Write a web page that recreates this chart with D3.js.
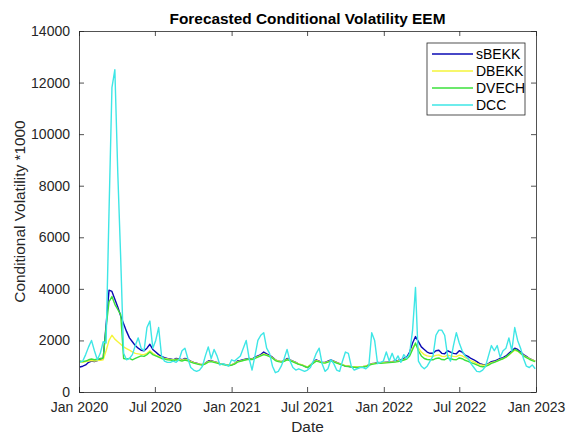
<!DOCTYPE html>
<html>
<head>
<meta charset="utf-8">
<script src="https://cdn.jsdelivr.net/npm/d3@7/dist/d3.min.js"></script>
<style>
  html, body { margin: 0; padding: 0; background: #fff; }
  svg { display: block; font-family: "Liberation Sans", Arial, Helvetica, sans-serif; }
</style>
</head>
<body>
<svg id="chart" width="568" height="437"></svg>
<script>
// Weekly forecasts of conditional volatility (x1000), first observation 3 Jan 2020
const startDate = new Date(2020, 0, 3);

const sBEKK = [
  970, 1000, 1050, 1150, 1200, 1180, 1220, 1250, 1300, 2600,
  3950, 3900, 3600, 3300, 2950, 2650, 2350, 2100, 1950, 1800,
  1700, 1620, 1600, 1700, 1850, 1650, 1550, 1450, 1380, 1330,
  1300, 1280, 1250, 1300, 1280, 1250, 1300, 1260, 1200, 1150,
  1120, 1080, 1060, 1120, 1200, 1220, 1180, 1150, 1100, 1080,
  1060, 1040, 1050, 1100, 1200, 1220, 1250, 1280, 1300, 1280,
  1350, 1400, 1450, 1550, 1480, 1420, 1350, 1250, 1200, 1180,
  1220, 1300, 1250, 1200, 1150, 1080, 1050, 1000, 950, 1050,
  1150, 1250, 1200, 1150, 1150, 1200, 1250, 1200, 1150, 1100,
  1050, 1000, 1000, 980, 960, 950, 960, 980, 1000, 1050,
  1100, 1120, 1150, 1140, 1150, 1160, 1170, 1180, 1200, 1220,
  1250, 1300, 1350, 1550, 1900, 2150, 1950, 1750, 1650, 1550,
  1500, 1500, 1600, 1620, 1500, 1480, 1600, 1550, 1500, 1480,
  1600, 1550, 1430, 1380, 1300, 1250, 1180, 1100, 1070, 1060,
  1100, 1180, 1200, 1250, 1300, 1330, 1400, 1500, 1600, 1700,
  1650, 1550, 1450, 1380, 1300, 1250, 1200
];

const DBEKK = [
  1150, 1150, 1180, 1200, 1220, 1200, 1220, 1230, 1250, 1600,
  2000, 2200, 2050, 1950, 1850, 1750, 1680, 1620, 1560, 1500,
  1480, 1460, 1450, 1500, 1600, 1500, 1420, 1380, 1330, 1300,
  1280, 1260, 1240, 1270, 1260, 1230, 1270, 1240, 1190, 1140,
  1110, 1080, 1060, 1110, 1180, 1200, 1170, 1140, 1100, 1080,
  1060, 1050, 1060, 1100, 1180, 1200, 1230, 1260, 1280, 1270,
  1320, 1370, 1420, 1480, 1440, 1390, 1330, 1240, 1200, 1180,
  1210, 1270, 1240, 1190, 1140, 1090, 1060, 1010, 970, 1050,
  1140, 1220, 1190, 1150, 1140, 1180, 1220, 1190, 1140, 1100,
  1060, 1020, 1010, 990, 980, 970, 980, 990, 1010, 1050,
  1090, 1110, 1130, 1130, 1140, 1150, 1160, 1170, 1180, 1200,
  1220, 1260, 1300, 1450, 1700, 1850, 1700, 1550, 1450, 1400,
  1380, 1380, 1420, 1440, 1380, 1370, 1430, 1400, 1380, 1370,
  1430, 1400, 1330, 1280, 1220, 1170, 1110, 1060, 1040, 1040,
  1080, 1140, 1170, 1210, 1260, 1290, 1350, 1440, 1530, 1620,
  1580, 1500, 1420, 1350, 1290, 1240, 1200
];

const DVECH = [
  1200, 1180, 1200, 1250, 1280, 1250, 1270, 1300, 1320, 2500,
  3500, 3700, 3400, 3200, 3000, 1300, 1280, 1300, 1250, 1300,
  1350, 1400, 1380, 1450, 1550, 1450, 1400, 1350, 1300, 1280,
  1250, 1240, 1220, 1250, 1230, 1200, 1240, 1210, 1160, 1120,
  1090, 1060, 1040, 1090, 1160, 1180, 1150, 1120, 1080, 1060,
  1040, 1030, 1040, 1080, 1160, 1190, 1220, 1250, 1270, 1260,
  1300, 1350, 1400, 1450, 1420, 1370, 1310, 1220, 1180, 1160,
  1190, 1250, 1220, 1170, 1120, 1070, 1040, 990, 950, 1030,
  1120, 1200, 1170, 1130, 1120, 1160, 1200, 1170, 1120, 1080,
  1040, 1000, 990, 970, 960, 950, 960, 970, 990, 1030,
  1070, 1090, 1110, 1110, 1120, 1130, 1140, 1150, 1160, 1180,
  1200, 1240, 1280, 1400, 1650, 1900, 1600, 1400, 1300, 1260,
  1250, 1250, 1300, 1320, 1260, 1250, 1320, 1290, 1260, 1250,
  1320, 1290, 1230, 1190, 1140, 1100, 1050, 1000, 980, 990,
  1040, 1110, 1150, 1200, 1250, 1290, 1350, 1450, 1550, 1650,
  1600, 1500, 1400, 1330, 1270, 1220, 1180
];

const DCC = [
  1150, 1200, 1450, 1750, 2000, 1600, 1250, 1500, 1950, 1900,
  7000, 11800, 12500, 8500, 5200, 1500, 1250, 1300, 1450, 1800,
  2100, 1700, 1600, 2500, 2750, 1700, 2000, 2500, 1400, 1200,
  1150, 1150, 1200, 1150, 1250, 1600, 1700, 1300, 950, 850,
  800, 850, 1000, 1400, 1750, 1300, 1650, 1400, 1050, 1100,
  1050, 1000, 1250, 1200, 1300, 1400, 1700, 2000, 1300, 850,
  1400, 2000, 2200, 2300, 1700, 1500, 1000, 750, 800, 1000,
  1300, 1650, 1200, 950, 850, 900, 850, 800, 850, 950,
  1200, 1500, 1700, 1100, 800, 900, 1250, 1100, 850, 800,
  1200, 1550, 1500, 1000, 850, 900, 950, 950, 900, 1000,
  2300, 2000, 1100, 1150, 1200, 1550, 1200, 1500, 1200, 1400,
  1150, 1450, 1300, 1500, 2400, 4050, 1200, 1000, 900, 1000,
  1200, 1400, 2200, 2400, 2400, 2200, 1400, 1200, 1800, 2300,
  1900, 1600, 1400, 1300, 1100, 950, 800, 780, 850, 1000,
  1400, 1800, 1600, 1800, 1350, 1600, 1700, 2100, 1600, 2500,
  2000, 1700, 1300, 1000, 950, 1050, 900
];

const seriesNames = ["sBEKK", "DBEKK", "DVECH", "DCC"];
const seriesColors = ["#0a0ab4", "#f5f53a", "#3be03b", "#3ee6e6"];
const yTicks = [0, 2000, 4000, 6000, 8000, 10000, 12000, 14000];
const xTickDates = [
  new Date(2020, 0, 1), new Date(2020, 6, 1), new Date(2021, 0, 1), new Date(2021, 6, 1),
  new Date(2022, 0, 1), new Date(2022, 6, 1), new Date(2023, 0, 1)
];
const xTickLabels = ["Jan 2020", "Jul 2020", "Jan 2021", "Jul 2021", "Jan 2022", "Jul 2022", "Jan 2023"];

const dates = sBEKK.map((_, i) => d3.timeDay.offset(startDate, 7 * i));
const allSeries = [sBEKK, DBEKK, DVECH, DCC];

const svg = d3.select("#chart");
const W = 568, H = 437;
const m = { left: 79, right: 32, top: 31, bottom: 45 };
const x0 = m.left, x1 = W - m.right, y0 = H - m.bottom, y1 = m.top;

const x = d3.scaleTime().domain([new Date(2020, 0, 1), new Date(2023, 0, 1)]).range([x0, x1]);
const y = d3.scaleLinear().domain([0, 14000]).range([y0, y1]);

const axisColor = "#262626";
const tickLen = 5;

// line series, drawn in legend order so DCC ends up on top
const line = d3.line().x((d, i) => x(dates[i])).y(d => y(d));
const plot = svg.append("g");
allSeries.forEach((s, k) => {
  plot.append("path")
    .datum(s)
    .attr("fill", "none")
    .attr("stroke", seriesColors[k])
    .attr("stroke-width", 1.4)
    .attr("stroke-linejoin", "round")
    .attr("d", line);
});

// axes: left and bottom with labels, top and right mirrored without labels
const fmtTick = d => xTickLabels[xTickDates.findIndex(t => +t === +d)];
const axBottom = svg.append("g").attr("transform", `translate(0,${y0})`)
  .call(d3.axisBottom(x).tickValues(xTickDates).tickFormat(fmtTick).tickSizeInner(-tickLen).tickSizeOuter(0).tickPadding(10));
const axTop = svg.append("g").attr("transform", `translate(0,${y1})`)
  .call(d3.axisTop(x).tickValues(xTickDates).tickFormat("").tickSizeInner(-tickLen).tickSizeOuter(0));
const axLeft = svg.append("g").attr("transform", `translate(${x0},0)`)
  .call(d3.axisLeft(y).tickValues(yTicks).tickFormat(d3.format("d")).tickSizeInner(-tickLen).tickSizeOuter(0).tickPadding(9));
const axRight = svg.append("g").attr("transform", `translate(${x1},0)`)
  .call(d3.axisRight(y).tickValues(yTicks).tickFormat("").tickSizeInner(-tickLen).tickSizeOuter(0));

[axBottom, axTop, axLeft, axRight].forEach(g => {
  g.select(".domain").attr("stroke", axisColor).attr("stroke-width", 0.8);
  g.selectAll(".tick line").attr("stroke", axisColor).attr("stroke-width", 0.8);
  g.selectAll(".tick text").attr("fill", axisColor).style("font-size", "14px");
});

// title and axis labels
svg.append("text")
  .attr("x", (x0 + x1) / 2).attr("y", 24)
  .attr("text-anchor", "middle")
  .attr("fill", "#000")
  .style("font-size", "15.4px").style("font-weight", "bold")
  .text("Forecasted Conditional Volatility EEM");

svg.append("text")
  .attr("x", (x0 + x1) / 2).attr("y", 432)
  .attr("text-anchor", "middle")
  .attr("fill", axisColor)
  .style("font-size", "15.4px")
  .text("Date");

svg.append("text")
  .attr("transform", `translate(25,${(y0 + y1) / 2}) rotate(-90)`)
  .attr("text-anchor", "middle")
  .attr("fill", axisColor)
  .style("font-size", "15.4px")
  .text("Conditional Volatility *1000");

// legend
const lg = svg.append("g").attr("transform", "translate(427,43)");
lg.append("rect")
  .attr("width", 98).attr("height", 72)
  .attr("fill", "#fff").attr("stroke", axisColor).attr("stroke-width", 0.8);
seriesNames.forEach((name, k) => {
  const yy = 11 + k * 17;
  lg.append("line")
    .attr("x1", 5).attr("x2", 46).attr("y1", yy).attr("y2", yy)
    .attr("stroke", seriesColors[k]).attr("stroke-width", 1.4);
  lg.append("text")
    .attr("x", 49).attr("y", yy + 5)
    .attr("fill", "#000")
    .style("font-size", "14px")
    .text(name);
});
</script>
</body>
</html>
